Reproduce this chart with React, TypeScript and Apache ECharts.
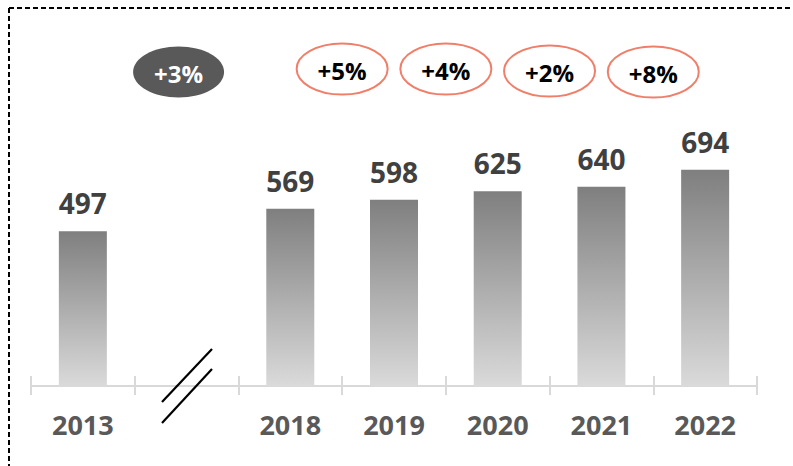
import React, { useEffect, useRef } from "react";
import * as echarts from "echarts";

const categories = ["2013", "", "2018", "2019", "2020", "2021", "2022"];
const values: (number | null)[] = [497, null, 569, 598, 625, 640, 694];
const growthLabels = ["+3%", "+5%", "+4%", "+2%", "+8%"];
// category pairs each growth label sits between (same index twice = centred on that category)
const growthFrom = [1, 2, 3, 4, 5];
const growthTo = [1, 3, 4, 5, 6];

export default function App() {
  const ref = useRef<HTMLDivElement>(null);
  useEffect(() => {
    if (!ref.current) return;
    const chart = echarts.init(ref.current, null, { renderer: "svg" });
    const font = "'Open Sans', Lato, 'Noto Sans', sans-serif";
    chart.setOption({
      animation: false,
      grid: { left: 31, right: 36, top: 74.5, bottom: 80, containLabel: false },
      xAxis: [
        {
          type: "category",
          data: categories,
          boundaryGap: true,
          axisLine: { show: true, lineStyle: { color: "#d9d9d9", width: 2 } },
          axisTick: { show: true, length: 9, alignWithLabel: false, lineStyle: { color: "#d9d9d9", width: 2 } },
          axisLabel: {
            color: "#595959",
            fontFamily: font,
            fontWeight: "bold",
            fontSize: 27,
            margin: 25,
            interval: 0,
          },
        },
        {
          type: "category",
          data: categories,
          position: "bottom",
          boundaryGap: true,
          axisLine: { show: false },
          axisTick: { show: true, inside: true, length: 10, lineStyle: { color: "#d9d9d9", width: 2 } },
          axisLabel: { show: false },
        },
      ],
      yAxis: {
        type: "value",
        min: 0,
        max: 1000,
        show: false,
        splitLine: { show: false },
      },
      series: [
        {
          type: "bar",
          data: values,
          barWidth: 48,
          itemStyle: {
            color: new echarts.graphic.LinearGradient(0, 0, 0, 1, [
              { offset: 0, color: "#7f7f7f" },
              { offset: 1, color: "#dadada" },
            ]),
          },
          label: {
            show: true,
            position: "top",
            distance: 14,
            color: "#404040",
            fontFamily: font,
            fontWeight: "bold",
            fontSize: 28,
          },
        },
      ],
    });

    const cx = (i: number) => {
      const a = chart.convertToPixel({ xAxisIndex: 0 }, growthFrom[i]) as number;
      const b = chart.convertToPixel({ xAxisIndex: 0 }, growthTo[i]) as number;
      return (a + b) / 2 + (i === 0 ? -8 : 0);
    };
    const cys = [72, 69, 69, 71, 72];
    const growthGraphics: any[] = [];
    growthLabels.forEach((g, i) => {
      const x = cx(i);
      const dark = i === 0;
      growthGraphics.push({
        type: "ellipse",
        shape: { cx: x, cy: cys[i], rx: 45.5, ry: 25.5 },
        style: dark
          ? { fill: "#595959", stroke: "none" }
          : { fill: "#ffffff", stroke: "#f07f6a", lineWidth: 2 },
        z: 10,
      });
      growthGraphics.push({
        type: "text",
        style: {
          text: g,
          x: x,
          y: cys[i] + 1,
          align: "center",
          verticalAlign: "middle",
          fill: dark ? "#ffffff" : "#000000",
          font: `bold 24px ${font}`,
        },
        z: 11,
      });
    });

    chart.setOption({
      graphic: [
        {
          type: "line",
          shape: { x1: 9, y1: 8, x2: 793, y2: 8 },
          style: { stroke: "#000000", lineWidth: 2, lineDash: [5, 3] },
        },
        {
          type: "line",
          shape: { x1: 9, y1: 8, x2: 9, y2: 466 },
          style: { stroke: "#000000", lineWidth: 2, lineDash: [5, 3] },
        },
        {
          type: "line",
          shape: { x1: 162, y1: 402, x2: 212, y2: 349 },
          style: { stroke: "#000000", lineWidth: 2.2 },
          z: 10,
        },
        {
          type: "line",
          shape: { x1: 162, y1: 423, x2: 212, y2: 369 },
          style: { stroke: "#000000", lineWidth: 2.2 },
          z: 10,
        },
        ...growthGraphics,
      ],
    });

    return () => chart.dispose();
  }, []);
  return <div ref={ref} style={{ width: 793, height: 466, position: "absolute", left: 0, top: 0 }} />;
}
